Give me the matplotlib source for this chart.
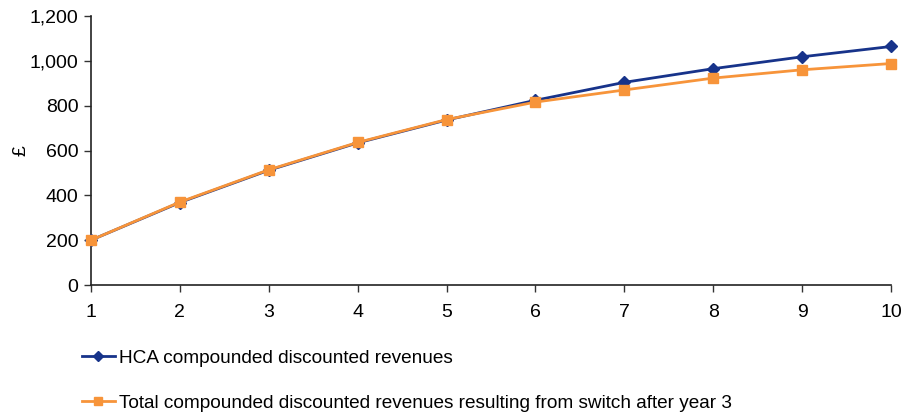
import matplotlib
matplotlib.use("Agg")
import matplotlib.pyplot as plt
from matplotlib.ticker import FuncFormatter

plt.rcParams['font.family'] = ['Liberation Sans', 'DejaVu Sans']

years = [1, 2, 3, 4, 5, 6, 7, 8, 9, 10]
hca_revenues = [200, 368, 512, 634, 736, 824, 904, 965, 1018, 1064]
switch_revenues = [200, 370, 514, 636, 738, 816, 870, 923, 960, 988]
hca_label = "HCA compounded discounted revenues"
switch_label = "Total compounded discounted revenues resulting from switch after year 3"

navy = "#17338A"
orange = "#F7943A"

fig = plt.figure(figsize=(9.06, 4.12), dpi=100)
ax = fig.add_axes([91 / 906, 1 - 285 / 412, 800 / 906, 269 / 412])

ax.plot(years, hca_revenues, color=navy, lw=2, marker="D", ms=6.5,
        label=hca_label, zorder=3)
ax.plot(years, switch_revenues, color=orange, lw=2, marker="s", ms=6.5,
        label=switch_label, zorder=4)

ax.set_xlim(1, 10)
ax.set_ylim(0, 1200)
ax.set_xticks(years)
ax.set_yticks(range(0, 1201, 200))
ax.yaxis.set_major_formatter(FuncFormatter(lambda v, p: f"{int(v):,}"))
ax.tick_params(labelsize=14, length=5, width=1, color="#333333", pad=4)
ax.tick_params(axis="x", pad=9)
for side in ("top", "right"):
    ax.spines[side].set_visible(False)
for side in ("left", "bottom"):
    ax.spines[side].set_color("#222222")
    ax.spines[side].set_linewidth(1.2)
ax.set_ylabel("£", fontsize=14)
ax.yaxis.set_label_coords(-0.077, 0.5)
for m in ax.get_lines():
    m.set_clip_on(False)

handles, labels = ax.get_legend_handles_labels()
fig.legend(handles, labels, loc="upper left", bbox_to_anchor=(74 / 906, 1 - 342 / 412),
           frameon=False, fontsize=13.7, handlelength=1.75, handletextpad=0.2,
           labelspacing=1.45, markerscale=0.8, borderaxespad=0)

fig.savefig("out.png", dpi=100)
